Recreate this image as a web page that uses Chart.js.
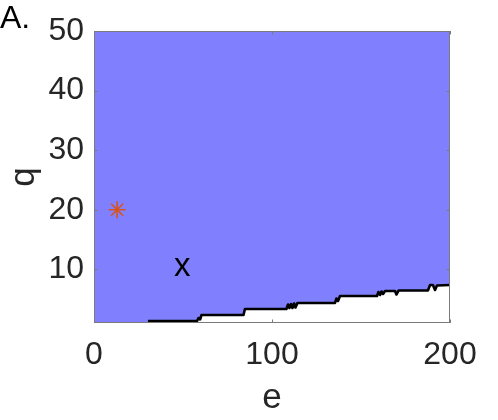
<!DOCTYPE html>
<html><head><meta charset="utf-8">
<script src="https://cdn.jsdelivr.net/npm/chart.js@4"></script>
<style>html,body{margin:0;padding:0;background:#fff}#wrap{width:498px;height:420px}</style>
</head><body>
<div id="wrap"><canvas id="c" width="498" height="420"></canvas></div>
<script>
// ---- data ----
const eVals = [30.3, 57.9, 58.7, 59.6, 60.4, 84.0, 84.8, 108.1, 109.0, 109.8, 110.7, 111.5, 112.4, 113.2, 114.3, 135.4, 136.2, 137.1, 138.2, 159.0, 159.8, 160.7, 161.5, 162.4, 163.5, 169.1, 169.9, 171.1, 187.6, 188.8, 190.4, 191.6, 192.7, 200];
const qVals = [1.34, 1.34, 1.84, 1.59, 2.34, 2.34, 3.35, 3.35, 4.10, 3.52, 4.19, 3.52, 4.27, 3.60, 4.36, 4.36, 5.11, 4.69, 5.53, 5.53, 6.20, 5.70, 6.29, 5.87, 6.37, 6.37, 5.78, 6.45, 6.45, 7.38, 7.38, 6.54, 7.29, 7.38];
const starE = [13];
const starQ = [20];
const crossE = [45];
const crossQ = [10];
const crossText = 'x';
const xTicks = [0, 100, 200];
const yTicks = [10, 20, 30, 40, 50];
const xRange = [0, 200];
const yRange = [1, 50];
const panelLabel = 'A.';
const xLabel = 'e';
const yLabel = 'q';

// ---- build ----
const FONT = '"Liberation Sans", Arial, Helvetica, sans-serif';
const TXT = '#262626';
const boundary = eVals.map((e, i) => ({x: e, y: qVals[i]}));
const fillPts = [{x: xRange[0], y: yRange[0]}, {x: eVals[0], y: yRange[0]}].concat(boundary);

const framePlugin = {
  id: 'frame',
  afterDraw(chart) {
    const ctx = chart.ctx;
    const a = chart.chartArea;
    const xs = chart.scales.x, ys = chart.scales.y;
    ctx.save();
    ctx.strokeStyle = '#7a7a7a';
    ctx.lineWidth = 1;
    ctx.strokeRect(Math.round(a.left) + 0.5, Math.round(a.top) + 0.5, Math.round(a.right - a.left) - 1, Math.round(a.bottom - a.top) - 1);
    const tl = 3.5;
    ctx.beginPath();
    xTicks.forEach(v => {
      const p = Math.round(xs.getPixelForValue(v)) + 0.5;
      ctx.moveTo(p, a.bottom); ctx.lineTo(p, a.bottom - tl);
      ctx.moveTo(p, a.top); ctx.lineTo(p, a.top + tl);
    });
    yTicks.forEach(v => {
      const p = Math.round(ys.getPixelForValue(v)) + 0.5;
      ctx.moveTo(a.left, p); ctx.lineTo(a.left + tl, p);
      ctx.moveTo(a.right, p); ctx.lineTo(a.right - tl, p);
    });
    ctx.stroke();
    // text annotation
    ctx.fillStyle = '#000';
    ctx.font = '33px ' + FONT;
    ctx.textAlign = 'left';
    ctx.textBaseline = 'middle';
    crossE.forEach((e, i) => {
      ctx.fillText(crossText, xs.getPixelForValue(e), ys.getPixelForValue(crossQ[i]) - 2);
    });
    // panel label
    ctx.fillStyle = '#000';
    ctx.font = '32px ' + FONT;
    ctx.textBaseline = 'alphabetic';
    ctx.fillText(panelLabel, 0, 28);
    ctx.restore();
  }
};

new Chart(document.getElementById('c'), {
  type: 'line',
  data: {
    datasets: [
      {
        data: fillPts, fill: 'end', backgroundColor: '#8080FF', borderWidth: 0,
        borderColor: 'rgba(0,0,0,0)', pointRadius: 0, tension: 0, order: 3
      },
      {
        data: boundary, fill: false, borderColor: '#000', borderWidth: 2.6,
        pointRadius: 0, tension: 0, order: 2, borderJoinStyle: 'round'
      },
      {
        type: 'scatter', data: starE.map((e, i) => ({x: e, y: starQ[i]})),
        pointStyle: 'star', pointRadius: 8.5, borderColor: '#D95319', borderWidth: 1.6,
        backgroundColor: '#D95319', showLine: false, order: 1
      }
    ]
  },
  options: {
    responsive: false, animation: false, devicePixelRatio: 1,
    layout: {padding: {left: 0, top: 31, right: 48, bottom: 0}},
    plugins: {legend: {display: false}, tooltip: {enabled: false}},
    scales: {
      x: {
        type: 'linear', min: xRange[0], max: xRange[1],
        afterBuildTicks: s => { s.ticks = xTicks.map(v => ({value: v})); },
        afterFit: s => { s.height = 97; },
        grid: {display: false, drawTicks: false}, border: {display: false},
        ticks: {padding: 13, color: TXT, font: {family: FONT, size: 32}, maxRotation: 0, autoSkip: false},
        title: {display: true, text: xLabel, color: TXT, font: {family: FONT, size: 35}, padding: {top: 0, bottom: 1}}
      },
      y: {
        type: 'linear', min: yRange[0], max: yRange[1], z: 1,
        afterBuildTicks: s => { s.ticks = yTicks.map(v => ({value: v})); },
        afterFit: s => { s.width = 94; },
        grid: {color: 'rgba(38,38,38,0.15)', lineWidth: 1, drawTicks: false}, border: {display: false},
        ticks: {padding: 10, color: TXT, font: {family: FONT, size: 32}, autoSkip: false},
        title: {display: true, text: yLabel, color: TXT, font: {family: FONT, size: 35}, padding: {top: 3, bottom: 0}}
      }
    }
  },
  plugins: [framePlugin]
});
</script>
</body></html>
